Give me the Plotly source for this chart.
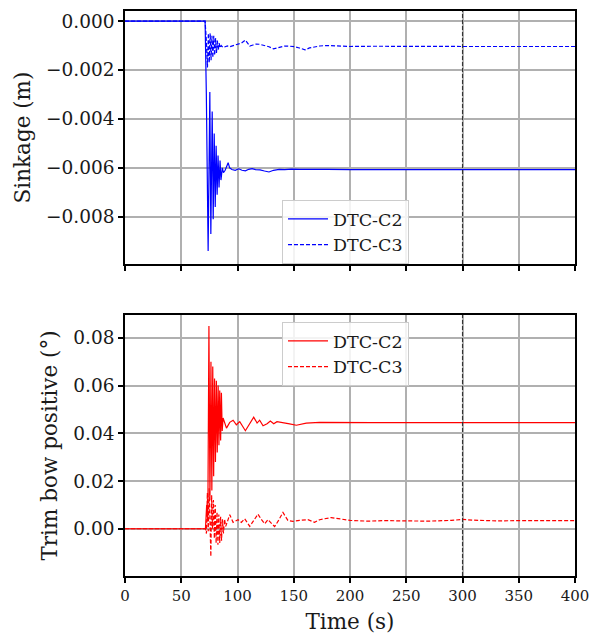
import plotly.graph_objects as go

# ---------------- data ----------------
# Sinkage (m), DTC-C2 (solid)
sink_c2_t = [0, 71.2, 72.3, 73.9, 75.4, 76.3, 77.5, 78.4, 79.3, 80.2, 81.0, 81.9, 82.7, 83.6,
             84.5, 85.3, 86.5, 87.5, 89.0, 90.5, 91.7, 93.0, 95.0, 98.0, 101, 104, 107, 110,
             113, 116, 120, 124, 128, 132, 137, 142, 148, 155, 165, 180, 200, 250, 300, 350,
             400]
sink_c2_v = [0, 0, -0.0030, -0.0094, -0.0029, -0.0087, -0.0037, -0.0081, -0.0046, -0.0076,
             -0.0051, -0.0071, -0.0055, -0.0068, -0.0057, -0.0065, -0.0060, -0.0062, -0.0061,
             -0.0059, -0.00579, -0.0060, -0.00607, -0.00610, -0.00604, -0.00610, -0.00612,
             -0.00606, -0.00603, -0.00607, -0.00608, -0.00613, -0.00617, -0.00610, -0.00606,
             -0.00607, -0.00605, -0.00606, -0.00607, -0.00606, -0.00607, -0.00607, -0.00607,
             -0.00607, -0.00607]

# Sinkage (m), DTC-C3 (dashed)
sink_c3_t = [0, 71.2, 72.3, 73.3, 74.1, 74.9, 75.7, 76.5, 77.3, 78.1, 78.9, 79.7, 80.5, 81.3,
             82.1, 82.9, 83.7, 84.5, 85.5, 87.0, 89.0, 91.0, 93.0, 96.0, 99.0, 103.5, 107.0,
             110.9, 113.8, 116.5, 119.7, 124.0, 128.0, 132.0, 137.5, 142.0, 146.4, 151.0,
             155.0, 160.0, 164.0, 169.0, 173.0, 180.0, 188.0, 200.0, 220.0, 240.0, 270.0,
             300.0, 330.0, 360.0, 400.0]
sink_c3_v = [0, 0, -0.0008, -0.0019, -0.0005, -0.0017, -0.0005, -0.0016, -0.0006, -0.0015,
             -0.0006, -0.0014, -0.0007, -0.0013, -0.0008, -0.0012, -0.0009, -0.0011, -0.0010,
             -0.00108, -0.00105, -0.00102, -0.00105, -0.00100, -0.00098, -0.00090, -0.00078,
             -0.00102, -0.00098, -0.00094, -0.00095, -0.00100, -0.00105, -0.00114, -0.00108,
             -0.00102, -0.00103, -0.00105, -0.00110, -0.00118, -0.00110, -0.00105, -0.00102,
             -0.00100, -0.00102, -0.00104, -0.00103, -0.00104, -0.00104, -0.00104, -0.00104,
             -0.00104, -0.00104]

# Trim bow positive (deg), DTC-C2 (solid)
trim_c2_t = [0, 71.5, 72.6, 73.6, 74.6, 75.5, 76.4, 77.2, 78.0, 78.8, 79.6, 80.4, 81.2, 82.0,
             82.8, 83.5, 84.2, 85.0, 85.7, 86.4, 87.2, 90.2, 93.1, 96.1, 99.0, 102.0, 107.0,
             110.9, 114.4, 117.4, 119.7, 122.7, 126.3, 129.2, 132.2, 135.1, 140.4, 146.3,
             152.3, 161.1, 173.0, 190.0, 220.0, 260.0, 300.0, 350.0, 400.0]
trim_c2_v = [0, 0, 0.010, 0.003, 0.085, 0.012, 0.070, 0.016, 0.068, 0.022, 0.063, 0.028,
             0.062, 0.032, 0.060, 0.035, 0.058, 0.037, 0.057, 0.041, 0.0464, 0.0422, 0.0446,
             0.0455, 0.0436, 0.0449, 0.0411, 0.0443, 0.0468, 0.0443, 0.0455, 0.0432, 0.0440,
             0.0452, 0.0440, 0.0449, 0.0446, 0.0440, 0.0434, 0.0443, 0.0446, 0.0445, 0.0445,
             0.0445, 0.0445, 0.0445, 0.0445]

# Trim bow positive (deg), DTC-C3 (dashed)
trim_c3_t = [0, 71.5, 72.4, 73.2, 74.0, 74.8, 75.6, 76.3, 77.0, 77.8, 78.6, 79.4, 80.2, 81.0,
             81.8, 82.6, 83.4, 84.2, 85.0, 85.8, 86.6, 87.5, 88.5, 89.5, 91.0, 93.1, 96.1,
             100.5, 103.4, 106.4, 110.9, 114.5, 118.2, 121.0, 124.2, 127.1, 130.0, 133.0,
             136.5, 140.4, 144.8, 149.3, 155.2, 162.6, 168.5, 173.0, 183.3, 190.7, 200.0,
             215.0, 230.0, 250.0, 270.0, 290.0, 300.0, 310.0, 330.0, 350.0, 375.0, 400.0]
trim_c3_v = [0, 0, -0.002, 0.015, -0.001, 0.017, 0.002, -0.0116, 0.014, 0.000, 0.012, -0.004,
             0.010, -0.006, 0.007, -0.0067, 0.006, -0.006, 0.005, -0.005, 0.004, -0.002,
             0.004, 0.001, 0.003, 0.0059, 0.0027, 0.0038, 0.0027, 0.0042, 0.0010, 0.0035,
             0.0061, 0.0040, 0.0021, 0.0038, 0.0025, 0.0009, 0.0035, 0.0068, 0.0035, 0.0031,
             0.0035, 0.0038, 0.0027, 0.0038, 0.0047, 0.0042, 0.0035, 0.0032, 0.0034, 0.0033,
             0.0032, 0.0035, 0.0039, 0.0036, 0.0033, 0.0034, 0.0033, 0.0034]

marker_time = 300
x_ticks = [0, 50, 100, 150, 200, 250, 300, 350, 400]
sink_ticks = [0.0, -0.002, -0.004, -0.006, -0.008]
sink_tick_labels = ["0.000", "\u22120.002", "\u22120.004", "\u22120.006", "\u22120.008"]
trim_ticks = [0.0, 0.02, 0.04, 0.06, 0.08]
trim_tick_labels = ["0.00", "0.02", "0.04", "0.06", "0.08"]

# ---------------- figure ----------------
FONT = "DejaVu Serif"
BLUE = "#0000ff"
RED = "#ff0000"
GRID = "#b0b0b0"
TXT = "#1a1a1a"
TITLE_SIZE = 21.5

fig = go.Figure()
fig.add_trace(go.Scatter(x=sink_c2_t, y=sink_c2_v, mode="lines", name="DTC-C2",
                         line=dict(color=BLUE, width=1.2), xaxis="x", yaxis="y", legend="legend"))
fig.add_trace(go.Scatter(x=sink_c3_t, y=sink_c3_v, mode="lines", name="DTC-C3",
                         line=dict(color=BLUE, width=1.2, dash="4px,2px"), xaxis="x", yaxis="y",
                         legend="legend"))
fig.add_trace(go.Scatter(x=trim_c2_t, y=trim_c2_v, mode="lines", name="DTC-C2",
                         line=dict(color=RED, width=1.2), xaxis="x2", yaxis="y2", legend="legend2"))
fig.add_trace(go.Scatter(x=trim_c3_t, y=trim_c3_v, mode="lines", name="DTC-C3",
                         line=dict(color=RED, width=1.2, dash="4px,2px"), xaxis="x2", yaxis="y2",
                         legend="legend2"))

axis_common = dict(showline=True, linecolor="black", linewidth=1.5, mirror=True,
                   ticks="outside", ticklen=5, tickwidth=1.5, tickcolor="black",
                   showgrid=True, gridcolor=GRID, gridwidth=1.6, zeroline=False,
                   ticklabeloverflow="allow", automargin=False)

xtickfont = dict(family=FONT, size=15, color=TXT)
ytickfont = dict(family=FONT, size=18.5, color=TXT)

# top: y 11..264 ; bottom: y 315..576 ; plot height 565
H_PLOT = 565.0
PLOT_W = 590 - 125 - 15
top_dom = [(576 - 264) / H_PLOT, 1.0]
bot_dom = [0.0, (576 - 315) / H_PLOT]

legend_style = dict(xanchor="left", yanchor="top", bgcolor="rgba(255,255,255,0.85)",
                    bordercolor="#cccccc", borderwidth=1, itemwidth=40,
                    font=dict(family=FONT, size=17.5, color=TXT), tracegroupgap=0)

fig.update_layout(
    width=590, height=636,
    margin=dict(l=125, r=15, t=11, b=60),
    paper_bgcolor="white", plot_bgcolor="white",
    showlegend=True,
    xaxis=dict(axis_common, range=[0, 400], tickvals=x_ticks, showticklabels=False,
               anchor="y", domain=[0, 1], tickfont=xtickfont),
    yaxis=dict(axis_common, range=[-0.00993, 0.00041], tickvals=sink_ticks,
               ticktext=sink_tick_labels, domain=top_dom, anchor="x", tickfont=ytickfont,
               title=dict(text="Sinkage (m)", font=dict(family=FONT, size=TITLE_SIZE, color=TXT),
                          standoff=10)),
    xaxis2=dict(axis_common, range=[0, 400], tickvals=x_ticks, anchor="y2", domain=[0, 1],
                tickfont=xtickfont,
                title=dict(text="Time (s)", font=dict(family=FONT, size=TITLE_SIZE, color=TXT),
                           standoff=10)),
    yaxis2=dict(axis_common, range=[-0.0198, 0.0896], tickvals=trim_ticks,
                ticktext=trim_tick_labels, domain=bot_dom, anchor="x2", tickfont=ytickfont,
                title=dict(text="Trim bow positive (\u00b0)",
                           font=dict(family=FONT, size=TITLE_SIZE, color=TXT), standoff=10)),
    legend=dict(legend_style, x=(282 - 125) / PLOT_W, y=(576 - 200) / H_PLOT),
    legend2=dict(legend_style, x=(282 - 125) / PLOT_W, y=(576 - 322) / H_PLOT),
)

for xr, yr in (("x", "y domain"), ("x2", "y2 domain")):
    fig.add_shape(type="line", xref=xr, yref=yr, x0=marker_time, x1=marker_time, y0=0, y1=1,
                  line=dict(color="#333333", width=1.1, dash="4px,2px"), layer="above")

fig.write_html("out.html")
